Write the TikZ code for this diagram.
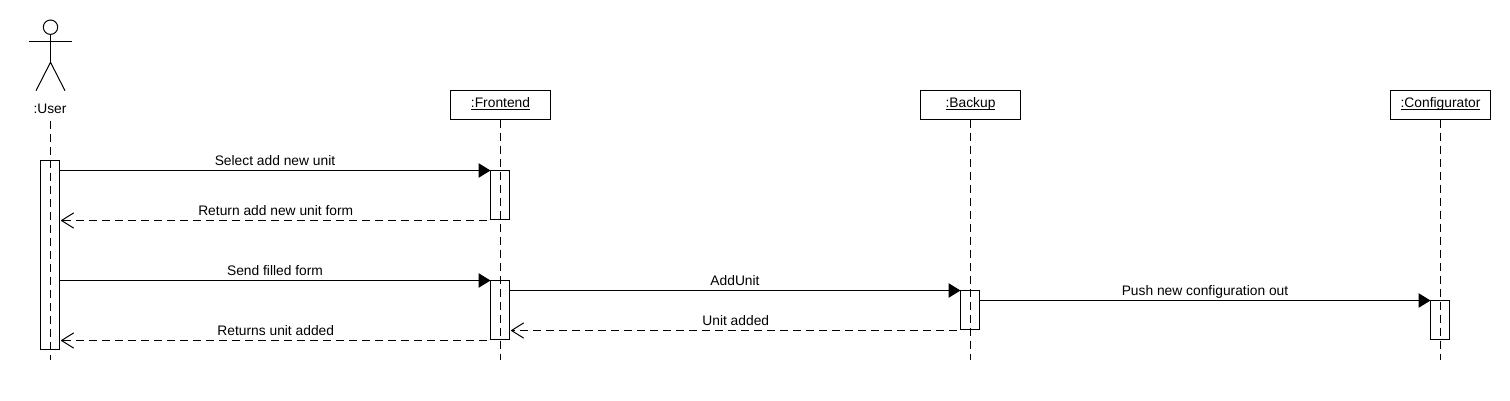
\documentclass[tikz,border=0pt]{standalone}
\usepackage{fontspec}
\setmainfont{Liberation Sans}
\usetikzlibrary{arrows.meta}
\newcommand{\ulbl}[1]{\setbox0\hbox{#1}\leavevmode\rlap{\rule[-1.8pt]{\wd0}{0.8pt}}\box0}
\tikzset{
  x=1pt,y=-1pt,
  every picture/.style={line width=1pt,line join=miter},
  lbl/.style={font=\fontsize{13.8}{15}\selectfont,inner sep=0pt,outer sep=0pt,text height=8pt,text depth=2.6pt},
  objbox/.style={draw,lbl,minimum width=100pt,minimum height=29pt,anchor=north west},
  actbox/.style={draw,minimum width=19pt,anchor=north west,inner sep=0pt,outer sep=0pt},
  lifeline/.style={dash pattern=on 8pt off 5pt},
  sync/.style={-{Triangle[width=14.5pt,length=12pt,fill=black]}},
  reply/.style={dash pattern=on 8pt off 5pt,dash phase=9pt,-{Straight Barb[width=15pt,length=12pt,line width=1pt,round=false]}},
  msg/.style={lbl,midway,above=2.2pt},
}
\begin{document}
\begin{tikzpicture}
\useasboundingbox (0,0) rectangle (1510,400);
% actor
\node[draw,circle,minimum size=14.4pt,inner sep=0pt,outer sep=0pt] (head) at (50.5,27.2) {};
\coordinate (neck) at (50.5,62.3);
\coordinate (armL) at (29,41.3);
\coordinate (armR) at (71.7,41.3);
\coordinate (legL) at (36,90.7);
\coordinate (legR) at (65,90.7);
\draw (head.south) -- (neck);
\draw (armL) -- (armR);
\draw (legL) -- (neck) -- (legR);
\node[lbl] (user) at (50,110.6) {:User};
% objects
\node[objbox] (fe) at (450.5,90.5) {\ulbl{:Frontend}};
\node[objbox] (bk) at (920.5,90.5) {\ulbl{:Backup}};
\node[objbox] (cf) at (1390.5,90.5) {\ulbl{:Configurator}};
% lifeline ends
\coordinate (us) at (50.5,120.5);
\coordinate (ue) at (50.5,360);
\coordinate (fee) at (500.5,360);
\coordinate (bke) at (970.5,360);
\coordinate (cfe) at (1440.5,360);
\draw[lifeline] (us) -- (ue);
\draw[lifeline] (fe.south) -- (fee);
\draw[lifeline] (bk.south) -- (bke);
\draw[lifeline] (cf.south) -- (cfe);
% activations
\node[actbox,minimum height=189pt] (ua) at (40.5,160.5) {};
\node[actbox,minimum height=49pt] (fa1) at (490.5,170.5) {};
\node[actbox,minimum height=59pt] (fa2) at (490.5,280.5) {};
\node[actbox,minimum height=39pt] (ba) at (960.5,290.5) {};
\node[actbox,minimum height=39pt] (ca) at (1430.5,300.5) {};
% messages
\draw[sync] (ua.east |- fa1.north) -- node[msg] (m1) {Select add new unit} (fa1.north west);
\draw[reply] ([yshift=-1pt]fa1.south west) -- node[msg] (m2) {Return add new unit form} ([xshift=1.5pt,yshift=-1pt]ua.east |- fa1.south);
\draw[sync] (ua.east |- fa2.north) -- node[msg] (m3) {Send filled form} (fa2.north west);
\draw[sync] (fa2.east |- ba.north) -- node[msg] (m4) {AddUnit} (ba.north west);
\draw[sync] (ba.east |- ca.north) -- node[msg] (m5) {Push new configuration out} (ca.north west);
\draw[reply] ([yshift=-1pt]ba.south west) -- node[msg] (m6) {Unit added} ([xshift=1.5pt,yshift=-1pt]fa2.east |- ba.south);
\draw[reply] ([yshift=-1pt]fa2.south west) -- node[msg] (m7) {Returns unit added} ([xshift=1.5pt,yshift=-1pt]ua.east |- fa2.south);
\end{tikzpicture}
\end{document}
